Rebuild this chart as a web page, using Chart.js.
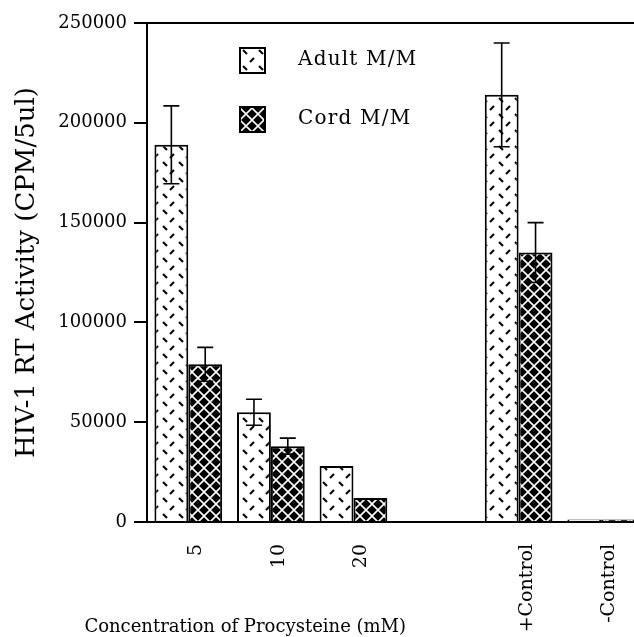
<!DOCTYPE html>
<html>
<head>
<meta charset="utf-8">
<title>HIV-1 RT Activity</title>
<script src="https://cdn.jsdelivr.net/npm/chart.js@4"></script>
<style>
  html, body { margin: 0; padding: 0; background: #fff; overflow: hidden; }
  #wrap { width: 646px; height: 637px; }
</style>
</head>
<body>
<div id="wrap"><canvas id="rtChart" width="646" height="637"></canvas></div>
<script>
// HIV-1 RT activity vs procysteine concentration

const CATEGORIES = ['5', '10', '20', '', '+Control', '-Control'];
const ADULT = [189000, 55000, 28000, null, 214000, 1200];
const ADULT_ERR = [19500, 6500, 0, null, 26000, 0];
const CORD = [79000, 38000, 12000, null, 135000, 1200];
const CORD_ERR = [8500, 4000, 0, null, 15000, 0];
const Y_TICKS = [0, 50000, 100000, 150000, 200000, 250000];

const SERIF = "'DejaVu Serif', 'Liberation Serif', serif";
const INK = '#000';

// dashed "weave" fill for adult bars
function adultPattern() {
  const c = document.createElement('canvas');
  c.width = 16; c.height = 16;
  const g = c.getContext('2d');
  g.fillStyle = '#fff';
  g.fillRect(0, 0, 16, 16);
  g.strokeStyle = INK;
  g.lineWidth = 2;
  g.beginPath();
  g.moveTo(3, 2); g.lineTo(7, 6);
  g.moveTo(10, 14); g.lineTo(14, 10);
  g.stroke();
  return g.createPattern(c, 'repeat');
}

// white diamond lattice on black for cord bars
function cordPattern() {
  const c = document.createElement('canvas');
  c.width = 12; c.height = 12;
  const g = c.getContext('2d');
  g.fillStyle = INK;
  g.fillRect(0, 0, 12, 12);
  g.strokeStyle = '#fff';
  g.lineWidth = 1.6;
  g.beginPath();
  g.moveTo(0, 0); g.lineTo(12, 12);
  g.moveTo(12, 0); g.lineTo(0, 12);
  g.stroke();
  return g.createPattern(c, 'repeat');
}

const ADULT_FILL = adultPattern();
const CORD_FILL = cordPattern();
const ERRORS = [ADULT_ERR, CORD_ERR];

const errorBars = {
  id: 'errorBars',
  afterDatasetsDraw(chart) {
    const { ctx } = chart;
    const y = chart.scales.y;
    ctx.save();
    ctx.strokeStyle = INK;
    ctx.lineWidth = 1.6;
    chart.data.datasets.forEach((ds, di) => {
      const meta = chart.getDatasetMeta(di);
      meta.data.forEach((bar, i) => {
        const err = ERRORS[di][i];
        if (!err || ds.data[i] == null) return;
        const yTop = y.getPixelForValue(ds.data[i] + err);
        const yLow = y.getPixelForValue(ds.data[i] - err);
        const half = 8;
        ctx.beginPath();
        ctx.moveTo(bar.x, yTop); ctx.lineTo(bar.x, yLow);
        ctx.moveTo(bar.x - half, yTop); ctx.lineTo(bar.x + half, yTop);
        ctx.moveTo(bar.x - half, yLow); ctx.lineTo(bar.x + half, yLow);
        ctx.stroke();
      });
    });
    ctx.restore();
  }
};

const insideLegend = {
  id: 'insideLegend',
  afterDraw(chart) {
    const { ctx, chartArea } = chart;
    const items = [
      { label: 'Adult M/M', fill: ADULT_FILL },
      { label: 'Cord M/M', fill: CORD_FILL },
    ];
    ctx.save();
    items.forEach((it, k) => {
      const bx = chartArea.left + 93;
      const by = chartArea.top + 25 + k * 59;
      ctx.fillStyle = it.fill;
      ctx.fillRect(bx, by, 25, 25);
      ctx.strokeStyle = INK;
      ctx.lineWidth = 2;
      ctx.strokeRect(bx, by, 25, 25);
      ctx.fillStyle = INK;
      ctx.font = '20px ' + SERIF;
      ctx.letterSpacing = '1.2px';
      ctx.textBaseline = 'middle';
      ctx.textAlign = 'left';
      ctx.fillText(it.label, bx + 58, by + 12);
    });
    ctx.restore();
  }
};

const xTitle = {
  id: 'xTitle',
  afterDraw(chart) {
    const { ctx, chartArea } = chart;
    const x = chart.scales.x;
    ctx.save();
    ctx.fillStyle = INK;
    ctx.font = '18px ' + SERIF;
    ctx.textAlign = 'center';
    ctx.textBaseline = 'middle';
    ctx.fillText('Concentration of Procysteine (mM)',
      (chartArea.left + x.getPixelForValue(2)) / 2 - 5, chart.height - 10);
    ctx.restore();
  }
};

new Chart(document.getElementById('rtChart'), {
  type: 'bar',
  data: {
    labels: CATEGORIES,
    datasets: [
      {
        label: 'Adult M/M',
        data: ADULT,
        backgroundColor: ADULT_FILL,
        borderColor: INK,
        borderWidth: 2,
        categoryPercentage: 0.82,
        barPercentage: 1.0,
      },
      {
        label: 'Cord M/M',
        data: CORD,
        backgroundColor: CORD_FILL,
        borderColor: INK,
        borderWidth: 2,
        categoryPercentage: 0.82,
        barPercentage: 1.0,
      }
    ]
  },
  options: {
    responsive: false,
    animation: false,
    layout: { padding: { top: 23, right: 0, bottom: 0, left: 0 } },
    plugins: {
      legend: { display: false },
      tooltip: { enabled: false },
    },
    scales: {
      x: {
        afterFit: s => { s.height = 115; },
        grid: { display: true, drawTicks: false, color: 'rgba(0,0,0,0)' },
        border: { display: true, color: INK, width: 2 },
        ticks: {
          color: INK,
          font: { family: SERIF, size: 19 },
          minRotation: 90,
          maxRotation: 90,
          padding: 22,
          labelOffset: 8,
          autoSkip: false,
        }
      },
      y: {
        min: 0,
        max: 250000,
        afterFit: s => { s.width = 147; },
        afterBuildTicks: s => { s.ticks = Y_TICKS.map(v => ({ value: v })); },
        grid: {
          color: c => (c.tick && c.tick.value === 250000 ? INK : 'rgba(0,0,0,0)'),
          tickColor: INK,
          tickLength: 13,
          lineWidth: 2,
        },
        border: { display: true, color: INK, width: 2 },
        ticks: {
          color: INK,
          font: { family: SERIF, size: 18 },
          padding: 7,
          callback: v => String(v),
        },
        title: {
          display: true,
          text: 'HIV-1 RT Activity (CPM/5ul)',
          color: INK,
          font: { family: SERIF, size: 26 },
          padding: { top: 12, bottom: 0 },
        }
      }
    }
  },
  plugins: [errorBars, insideLegend, xTitle]
});
</script>
</body>
</html>
